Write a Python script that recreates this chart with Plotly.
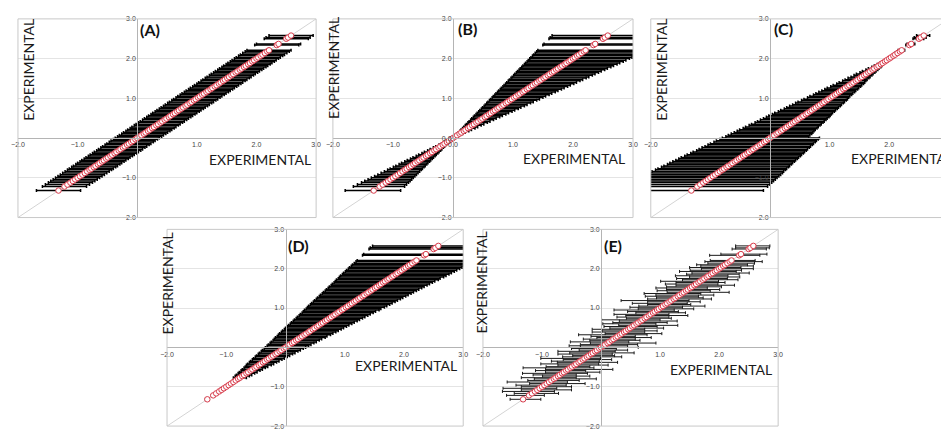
import plotly.graph_objects as go

# page geometry: the html body adds an 8px margin, so the figure is sized
# and placed to land on the 949x433 reference pixels
PAGE_W, PAGE_H = 949, 433
OFF = 8
W, H = PAGE_W - OFF, PAGE_H - OFF

# ---------------- data ----------------
# experimental values (points lie on the identity line: x = y)
pts = [
    -1.32, -1.22, -1.17, -1.12, -1.08, -1.04, -1.00, -0.96, -0.92, -0.88,
    -0.84, -0.80, -0.77, -0.73, -0.70, -0.66, -0.63, -0.59, -0.56, -0.52,
    -0.49, -0.45, -0.42, -0.38, -0.35, -0.31, -0.28, -0.24, -0.21, -0.17,
    -0.14, -0.10, -0.07, -0.03, 0.00, 0.04, 0.07, 0.11, 0.14, 0.18,
    0.21, 0.25, 0.28, 0.32, 0.35, 0.39, 0.42, 0.46, 0.49, 0.53,
    0.56, 0.60, 0.63, 0.67, 0.70, 0.74, 0.77, 0.81, 0.84, 0.88,
    0.91, 0.95, 0.98, 1.02, 1.05, 1.09, 1.12, 1.16, 1.19, 1.23,
    1.26, 1.30, 1.33, 1.37, 1.40, 1.44, 1.47, 1.51, 1.54, 1.58,
    1.61, 1.65, 1.68, 1.72, 1.75, 1.79, 1.82, 1.86, 1.89, 1.93,
    1.96, 2.00, 2.03, 2.07, 2.10, 2.14, 2.18, 2.21, 2.34, 2.37,
    2.50, 2.53, 2.58,
]

# (A) constant interval
err_A = 0.37

# (B) interval proportional to the value (percent)
B_pos_plus, B_pos_minus = 47, 36
B_neg_plus, B_neg_minus = 34, 36

# (C)
err_C_plus = [
    1.21, 1.18, 1.17, 1.15, 1.14, 1.13, 1.12, 1.11, 1.10, 1.09,
    1.07, 1.06, 1.05, 1.04, 1.03, 1.02, 1.01, 1.00, 0.99, 0.98,
    0.97, 0.96, 0.95, 0.94, 0.93, 0.92, 0.91, 0.90, 0.89, 0.88,
    0.87, 0.86, 0.85, 0.84, 0.83, 0.61, 0.60, 0.59, 0.58, 0.56,
    0.55, 0.54, 0.53, 0.52, 0.51, 0.50, 0.49, 0.48, 0.47, 0.46,
    0.45, 0.43, 0.42, 0.41, 0.40, 0.39, 0.38, 0.37, 0.36, 0.35,
    0.34, 0.33, 0.32, 0.30, 0.29, 0.28, 0.27, 0.26, 0.25, 0.24,
    0.23, 0.22, 0.21, 0.20, 0.19, 0.17, 0.16, 0.15, 0.14, 0.13,
    0.12, 0.11, 0.10, 0.09, 0.08, 0.07, 0.06, 0.04, 0.03, 0.02,
    0.01, 0.01, 0.01, 0.02, 0.02, 0.03, 0.04, 0.05, 0.05, 0.06,
    0.08, 0.09, 0.10,
]
err_C_minus = [
    1.33, 1.29, 1.27, 1.25, 1.23, 1.22, 1.20, 1.18, 1.17, 1.15,
    1.14, 1.12, 1.11, 1.09, 1.08, 1.06, 1.05, 1.04, 1.02, 1.01,
    1.00, 0.98, 0.97, 0.95, 0.94, 0.92, 0.91, 0.90, 0.88, 0.87,
    0.86, 0.84, 0.83, 0.81, 0.80, 0.78, 0.77, 0.76, 0.74, 0.73,
    0.72, 0.70, 0.69, 0.67, 0.66, 0.64, 0.63, 0.62, 0.60, 0.59,
    0.58, 0.56, 0.55, 0.53, 0.52, 0.50, 0.49, 0.48, 0.46, 0.45,
    0.44, 0.42, 0.41, 0.39, 0.38, 0.36, 0.35, 0.34, 0.32, 0.31,
    0.30, 0.28, 0.27, 0.25, 0.24, 0.22, 0.21, 0.20, 0.18, 0.17,
    0.16, 0.14, 0.13, 0.11, 0.10, 0.08, 0.07, 0.06, 0.04, 0.03,
    0.02, 0.01, 0.01, 0.02, 0.03, 0.04, 0.05, 0.06, 0.06, 0.07,
    0.10, 0.11, 0.12,
]

# (D) symmetric
err_D = [
    0.03, 0.03, 0.03, 0.03, 0.03, 0.03, 0.03, 0.03, 0.03, 0.03,
    0.03, 0.04, 0.11, 0.12, 0.13, 0.14, 0.15, 0.16, 0.17, 0.18,
    0.19, 0.21, 0.22, 0.23, 0.24, 0.25, 0.26, 0.27, 0.28, 0.29,
    0.30, 0.31, 0.32, 0.33, 0.34, 0.35, 0.36, 0.37, 0.38, 0.39,
    0.40, 0.42, 0.42, 0.44, 0.45, 0.46, 0.47, 0.48, 0.49, 0.50,
    0.51, 0.52, 0.53, 0.54, 0.55, 0.56, 0.57, 0.58, 0.59, 0.60,
    0.61, 0.63, 0.63, 0.65, 0.66, 0.67, 0.68, 0.69, 0.70, 0.71,
    0.72, 0.73, 0.74, 0.75, 0.76, 0.77, 0.78, 0.79, 0.80, 0.81,
    0.82, 0.83, 0.84, 0.86, 0.86, 0.88, 0.89, 0.90, 0.91, 0.92,
    0.93, 0.94, 0.95, 0.96, 0.97, 0.98, 0.99, 1.00, 1.04, 1.05,
    1.09, 1.10, 1.11,
]

# (E) irregular
err_E_plus = [
    0.30, 0.26, 0.45, 0.33, 0.58, 0.29, 0.50, 0.37, 0.65, 0.31,
    0.47, 0.72, 0.35, 0.54, 0.28, 0.43, 0.61, 0.33, 0.76, 0.40,
    0.30, 0.57, 0.38, 0.66, 0.32, 0.49, 0.27, 0.59, 0.44, 0.36,
    0.70, 0.34, 0.52, 0.29, 0.63, 0.41, 0.55, 0.82, 0.33, 0.48,
    0.37, 0.60, 0.30, 0.46, 0.68, 0.35, 0.53, 0.28, 0.57, 0.42,
    0.74, 0.33, 0.49, 0.62, 0.30, 0.45, 0.38, 0.66, 0.31, 0.55,
    0.40, 0.29, 0.59, 0.36, 0.71, 0.43, 0.34, 0.52, 0.30, 0.64,
    0.47, 0.35, 0.58, 0.32, 0.77, 0.41, 0.54, 0.29, 0.50, 0.68,
    0.37, 0.45, 0.31, 0.60, 0.39, 0.56, 0.33, 0.48, 0.62, 0.36,
    0.42, 0.58, 0.34, 0.51, 0.38, 0.46, 0.55, 0.40, 0.35, 0.44,
    0.30, 0.32, 0.28,
]
err_E_minus = [
    0.22, 0.38, 0.30, 0.55, 0.27, 0.62, 0.35, 0.48, 0.29, 0.71,
    0.40, 0.33, 0.58, 0.26, 0.45, 0.67, 0.31, 0.52, 0.38, 0.80,
    0.44, 0.28, 0.60, 0.36, 0.49, 0.33, 0.74, 0.41, 0.27, 0.56,
    0.39, 0.63, 0.30, 0.47, 0.35, 0.58, 0.42, 0.29, 0.66, 0.37,
    0.51, 0.32, 0.45, 0.70, 0.28, 0.54, 0.40, 0.61, 0.34, 0.48,
    0.26, 0.57, 0.43, 0.36, 0.69, 0.31, 0.50, 0.39, 0.62, 0.29,
    0.46, 0.73, 0.35, 0.53, 0.41, 0.30, 0.59, 0.37, 0.85, 0.44,
    0.32, 0.55, 0.40, 0.64, 0.28, 0.49, 0.36, 0.58, 0.43, 0.31,
    0.52, 0.38, 0.67, 0.34, 0.47, 0.29, 0.56, 0.41, 0.35, 0.60,
    0.45, 0.30, 0.53, 0.38, 0.48, 0.33, 0.42, 0.36, 0.50, 0.34,
    0.28, 0.25, 0.30,
]

identity = [-2.0, 3.0]
tick_vals = [-2, -1, 1, 2, 3]
tick_vals_B = [-2, -1, 0, 1, 2, 3]
panel_names = ["(A)", "(B)", "(C)", "(D)", "(E)"]
axis_title = "EXPERIMENTAL"

# ---------------- layout geometry (page pixels) ----------------
panels = [
    dict(px=(11, 313), py=(15, 217), xr=[-2, 3], xt=tick_vals, yt=tick_vals,
         ytitle=(21, 67), xtitle=(310, 158, "right"), lab=(133, 26)),
    dict(px=(330, 634), py=(15, 217), xr=[-2, 3], xt=tick_vals_B, yt=tick_vals_B,
         ytitle=(330, 65), xtitle=(628, 157, "right"), lab=(455, 25)),
    dict(px=(652, 949), py=(15, 217), xr=[-2, 2.92], xt=[-2, 1, 2, 3], yt=tick_vals,
         ytitle=(662, 67), xtitle=(853, 157, "left"), lab=(775, 25)),
    dict(px=(162, 462), py=(229, 429), xr=[-2, 3], xt=tick_vals, yt=tick_vals,
         ytitle=(162, 284), xtitle=(458, 367, "right"), lab=(283, 245)),
    dict(px=(482, 781), py=(229, 429), xr=[-2, 3], xt=tick_vals, yt=tick_vals,
         ytitle=(480, 283), xtitle=(777, 371, "right"), lab=(603, 245)),
]

def px2x(p):
    return (p - OFF) / W

def py2y(p):
    return 1 - (p - OFF) / H

RED = "#d83a4a"
fig = go.Figure()
layout = dict(width=W, height=H, margin=dict(l=0, r=0, t=0, b=0),
              paper_bgcolor="white", plot_bgcolor="white", showlegend=False,
              shapes=[], annotations=[])

tick_font = dict(family="Liberation Sans, Arial", size=7, color="#444")
title_font = dict(family="Lato, Open Sans, sans-serif", size=14, color="#1a1a1a")
eb_style = dict(color="black", thickness=1.5, width=1.5)
eb_style_E = dict(color="#1a1a1a", thickness=1, width=1.5)

for i, p in enumerate(panels):
    sfx = "" if i == 0 else str(i + 1)
    xa, ya = "x" + sfx, "y" + sfx
    xd = [max(0.0, px2x(p["px"][0])), min(1.0, px2x(p["px"][1]))]
    yd = [max(0.0, py2y(p["py"][1])), min(1.0, py2y(p["py"][0]))]
    xr = p["xr"]
    yr = [-2, 3]
    ypos = yd[0] + (0 - yr[0]) / (yr[1] - yr[0]) * (yd[1] - yd[0])
    xpos = xd[0] + (0 - xr[0]) / (xr[1] - xr[0]) * (xd[1] - xd[0])
    layout["xaxis" + sfx] = dict(domain=xd, range=xr, anchor="free", position=ypos,
                                 showline=True, linecolor="#b4b4b4", linewidth=1,
                                 showgrid=False, zeroline=False, tickvals=p["xt"],
                                 tickformat=".1f", ticks="", tickfont=tick_font,
                                 fixedrange=True)
    layout["yaxis" + sfx] = dict(domain=yd, range=yr, anchor="free", position=xpos,
                                 showline=True, linecolor="#b4b4b4", linewidth=1,
                                 showgrid=True, gridcolor="#e4e4e4", gridwidth=1,
                                 zeroline=False, tickvals=p["yt"], tickformat=".1f",
                                 ticks="", tickfont=tick_font, fixedrange=True)
    # frame
    layout["shapes"].append(dict(type="rect", xref=xa + " domain", yref=ya + " domain",
                                 x0=0, x1=1, y0=0, y1=1, layer="above",
                                 line=dict(color="#c8c8c8", width=1)))
    # identity line
    fig.add_trace(go.Scatter(x=identity, y=identity, mode="lines",
                             line=dict(color="#d4d4d4", width=1),
                             xaxis=xa, yaxis=ya, hoverinfo="skip"))
    if i == 0:
        fig.add_trace(go.Scatter(x=pts, y=pts, mode="markers",
                                 marker=dict(size=1, color="black"),
                                 error_x=dict(type="constant", value=err_A, **eb_style),
                                 xaxis=xa, yaxis=ya))
    elif i == 1:
        neg = [v for v in pts if v < 0]
        pos = [v for v in pts if v >= 0]
        fig.add_trace(go.Scatter(x=neg, y=neg, mode="markers",
                                 marker=dict(size=1, color="black"),
                                 error_x=dict(type="percent", symmetric=False,
                                              value=B_neg_plus, valueminus=B_neg_minus,
                                              **eb_style),
                                 xaxis=xa, yaxis=ya))
        fig.add_trace(go.Scatter(x=pos, y=pos, mode="markers",
                                 marker=dict(size=1, color="black"),
                                 error_x=dict(type="percent", symmetric=False,
                                              value=B_pos_plus, valueminus=B_pos_minus,
                                              **eb_style),
                                 xaxis=xa, yaxis=ya))
    elif i == 2:
        fig.add_trace(go.Scatter(x=pts, y=pts, mode="markers",
                                 marker=dict(size=1, color="black"),
                                 error_x=dict(type="data", symmetric=False,
                                              array=err_C_plus, arrayminus=err_C_minus,
                                              **eb_style),
                                 xaxis=xa, yaxis=ya))
    elif i == 3:
        fig.add_trace(go.Scatter(x=pts, y=pts, mode="markers",
                                 marker=dict(size=1, color="black"),
                                 error_x=dict(type="data", array=err_D, **eb_style),
                                 xaxis=xa, yaxis=ya))
    else:
        fig.add_trace(go.Scatter(x=pts, y=pts, mode="markers",
                                 marker=dict(size=1, color="black"),
                                 error_x=dict(type="data", symmetric=False,
                                              array=err_E_plus, arrayminus=err_E_minus,
                                              **eb_style_E),
                                 xaxis=xa, yaxis=ya))
    # red open circles on top
    fig.add_trace(go.Scatter(x=pts, y=pts, mode="markers",
                             marker=dict(size=5.5, color="white",
                                         line=dict(color=RED, width=1)),
                             xaxis=xa, yaxis=ya))
    # titles
    layout["annotations"].append(dict(text=axis_title, xref="paper", yref="paper",
                                      x=px2x(p["ytitle"][0]), y=py2y(p["ytitle"][1]),
                                      xanchor="center", yanchor="middle", textangle=-90,
                                      showarrow=False, font=title_font))
    xt = p["xtitle"]
    layout["annotations"].append(dict(text=axis_title, xref="paper", yref="paper",
                                      x=px2x(xt[0]), y=py2y(xt[1]), xanchor=xt[2],
                                      yanchor="middle", showarrow=False, font=title_font))
    layout["annotations"].append(dict(text="<b>" + panel_names[i] + "</b>", xref="paper",
                                      yref="paper", x=px2x(p["lab"][0]),
                                      y=py2y(p["lab"][1]), xanchor="left",
                                      yanchor="middle", showarrow=False,
                                      font=dict(family="Lato, Open Sans, sans-serif",
                                                size=16, color="#111")))

fig.update_layout(**layout)
fig.write_html("out.html")
